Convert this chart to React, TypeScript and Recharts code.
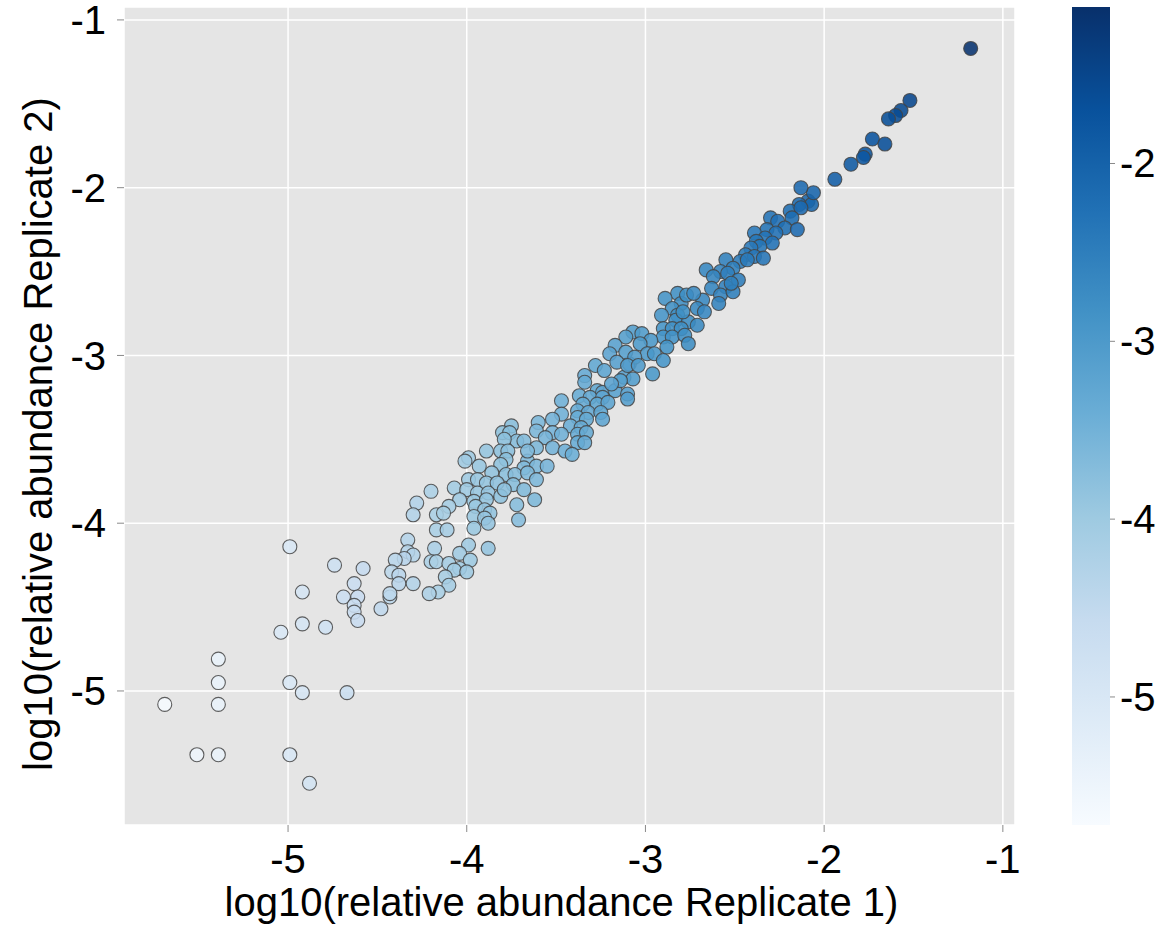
import { ScatterChart, Scatter, XAxis, YAxis, CartesianGrid } from 'recharts';

// log10 relative abundance, replicate 1 (x) and replicate 2 (y)
const replicate1 = [
  -4.99, -4.74, -4.92, -4.63, -4.69, -4.61, -4.63, -4.63, -4.61, -4.92, -4.79, -5.04,
  -5.39, -5.39, -5.39, -5.69, -4.99, -4.92, -4.67, -5.51, -5.39, -4.99, -4.88,
  -4.58, -4.2, -4.28, -4.3, -4.17, -4.17, -4.33, -4.33, -4.3, -4.35, -4.4, -4.18,
  -3.99, -3.88, -4.04, -3.98, -4.2, -4.17, -4.1, -4.04, -4.07, -4.0, -4.12, -4.42,
  -4.38, -4.38, -4.3, -4.1, -4.16, -4.21, -4.43, -4.43, -4.48,
  -3.75, -3.8, -3.76, -3.72, -3.79, -3.89, -3.81, -3.77, -3.99, -4.01, -3.78, -3.66,
  -3.93, -3.81, -3.68, -3.61, -3.55, -3.86, -3.78, -3.73, -3.66, -3.99, -3.94, -3.89,
  -3.83, -3.74, -3.61, -3.68, -4.07, -4.0, -3.94, -3.88, -3.81, -3.79, -4.04, -3.96,
  -3.89, -3.62, -3.72, -4.1, -3.95, -3.9, -3.87, -4.13, -3.96, -3.9, -3.71, -3.88,
  -4.11, -3.96,
  -3.09, -3.28, -3.23, -3.34, -3.12, -3.34, -3.27, -3.24, -3.17, -3.1, -3.37, -3.31,
  -3.24, -3.1, -3.47, -3.35, -3.27, -3.21, -3.38, -3.32, -3.25, -3.47, -3.52, -3.38,
  -3.33, -3.24, -3.6, -3.42, -3.36, -3.61, -3.52, -3.47, -3.38, -3.33, -3.56, -3.38,
  -3.34, -3.68, -3.61, -3.52, -3.45, -3.41, -3.66,
  -2.82, -2.89, -2.8, -2.85, -2.91, -2.82, -2.83, -2.76, -2.71, -2.9, -2.85, -2.8,
  -3.07, -3.02, -3.11, -2.9, -2.97, -2.85, -2.78, -3.03, -2.76, -3.17, -2.88, -3.11,
  -2.99, -2.95, -3.2, -3.06, -2.9, -3.16, -3.1, -3.04, -2.96, -3.07, -3.14, -3.19,
  -2.09, -2.07, -2.14, -2.19, -2.13, -2.18, -2.3, -2.26, -2.22, -2.15, -2.32, -2.27,
  -2.39, -2.33, -2.38, -2.29, -2.36, -2.41, -2.44, -2.39, -2.34, -2.55, -2.47, -2.43,
  -2.51, -2.66, -2.58, -2.54, -2.62, -2.48, -2.55, -2.63, -2.58, -2.51, -2.68, -2.77,
  -2.73, -2.59, -2.71, -2.79, -2.67, -2.52,
  -1.18, -1.52, -1.57, -1.6, -1.64, -1.73, -1.66, -1.77, -1.78, -1.85, -1.94, -2.06, -2.13,
];

const replicate2 = [
  -4.14, -4.25, -4.41, -4.36, -4.44, -4.44, -4.49, -4.53, -4.58, -4.6, -4.62, -4.65,
  -4.81, -4.95, -5.08, -5.08, -4.95, -5.01, -5.01, -5.38, -5.38, -5.38, -5.55,
  -4.27, -3.81, -3.88, -3.95, -3.95, -4.04, -4.1, -4.17, -4.19, -4.21, -4.22, -4.15,
  -4.13, -4.15, -4.18, -4.22, -4.23, -4.23, -4.24, -4.27, -4.28, -4.29, -4.32, -4.29,
  -4.31, -4.36, -4.36, -4.37, -4.41, -4.42, -4.44, -4.42, -4.51,
  -3.42, -3.46, -3.46, -3.51, -3.5, -3.57, -3.57, -3.57, -3.61, -3.63, -3.62, -3.63,
  -3.66, -3.65, -3.67, -3.66, -3.66, -3.7, -3.71, -3.71, -3.7, -3.74, -3.74, -3.76,
  -3.76, -3.77, -3.74, -3.8, -3.79, -3.8, -3.82, -3.82, -3.84, -3.8, -3.86, -3.87,
  -3.86, -3.86, -3.89, -3.9, -3.9, -3.92, -3.94, -3.94, -3.96, -3.97, -3.98, -4.0,
  -4.04, -4.03,
  -3.05, -3.06, -3.09, -3.12, -3.13, -3.16, -3.21, -3.22, -3.21, -3.23, -3.24, -3.25,
  -3.25, -3.26, -3.27, -3.29, -3.29, -3.28, -3.33, -3.34, -3.34, -3.35, -3.38, -3.37,
  -3.38, -3.38, -3.4, -3.42, -3.43, -3.45, -3.46, -3.47, -3.47, -3.46, -3.49, -3.52,
  -3.52, -3.51, -3.55, -3.55, -3.57, -3.59, -3.57,
  -2.63, -2.66, -2.69, -2.72, -2.76, -2.76, -2.79, -2.8, -2.82, -2.84, -2.84, -2.84,
  -2.86, -2.87, -2.89, -2.89, -2.91, -2.89, -2.88, -2.93, -2.93, -2.94, -2.95, -2.98,
  -2.99, -2.99, -2.99, -3.01, -3.03, -3.04, -3.06, -3.06, -3.11, -3.14, -3.15, -3.17,
  -2.08, -2.1, -2.1, -2.14, -2.12, -2.18, -2.18, -2.2, -2.24, -2.25, -2.25, -2.27,
  -2.27, -2.3, -2.32, -2.33, -2.35, -2.36, -2.4, -2.41, -2.42, -2.43, -2.44, -2.43,
  -2.48, -2.49, -2.5, -2.51, -2.53, -2.55, -2.59, -2.6, -2.64, -2.62, -2.67, -2.64,
  -2.63, -2.69, -2.72, -2.74, -2.74, -2.57,
  -1.17, -1.48, -1.54, -1.57, -1.59, -1.71, -1.74, -1.8, -1.82, -1.86, -1.95, -2.03, -2.0,
];

const xTicks = [-5, -4, -3, -2, -1];
const yTicks = [-5, -4, -3, -2, -1];
const colorTicks = [-5, -4, -3, -2];

// colour scale range (colour = replicate 1 value)
const colorMin = -5.72;
const colorMax = -1.12;

const blues = [
  [247, 251, 255], [222, 235, 247], [198, 219, 239], [158, 202, 225], [107, 174, 214],
  [66, 146, 198], [33, 113, 181], [8, 81, 156], [8, 48, 107],
];

const font = '"Liberation Sans", Arial, sans-serif';

function colorFor(v: number) {
  const t = Math.min(1, Math.max(0, (v - colorMin) / (colorMax - colorMin)));
  const p = t * (blues.length - 1);
  const i = Math.min(blues.length - 2, Math.floor(p));
  const f = p - i;
  const c = blues[i].map((a, k) => Math.round(a + (blues[i + 1][k] - a) * f));
  return `rgb(${c[0]},${c[1]},${c[2]})`;
}

const points = replicate1.map((x, i) => ({ x, y: replicate2[i] }));

const Dot = (props: any) => {
  const { cx, cy, payload } = props;
  return (
    <circle
      cx={cx}
      cy={cy}
      r={7}
      fill={colorFor(payload.x)}
      fillOpacity={0.88}
      stroke="#444"
      strokeOpacity={0.85}
      strokeWidth={1.1}
    />
  );
};

// colorbar geometry
const barX = 1072;
const barTop = 7;
const barH = 818;
const barW = 38;

export default function App() {
  return (
    <div style={{ position: 'absolute', left: 0, top: 0, width: 1160, height: 926, background: '#fff' }}>
      <ScatterChart width={1160} height={926} margin={{ top: 7, right: 145, bottom: 0, left: 0 }}>
        <CartesianGrid fill="#e5e5e5" stroke="#ffffff" strokeWidth={1.5} />
        <XAxis
          type="number"
          dataKey="x"
          domain={[-5.918, -0.932]}
          ticks={xTicks}
          interval={0}
          allowDataOverflow
          axisLine={false}
          tickLine={{ stroke: '#8a8a8a' }}
          tickSize={7}
          tickMargin={13}
          height={101}
          tick={{ fontSize: 40, fill: '#000', fontFamily: font }}
          label={{
            value: 'log10(relative abundance Replicate 1)',
            position: 'insideBottom',
            offset: 10,
            dx: -8,
            fontSize: 40,
            fill: '#000',
            fontFamily: font,
          }}
        />
        <YAxis
          type="number"
          dataKey="y"
          domain={[-5.799, -0.923]}
          ticks={yTicks}
          interval={0}
          allowDataOverflow
          axisLine={false}
          tickLine={{ stroke: '#8a8a8a' }}
          tickSize={7}
          tickMargin={11}
          width={124}
          tick={{ fontSize: 40, fill: '#000', fontFamily: font }}
          label={{
            value: 'log10(relative abundance Replicate 2)',
            angle: -90,
            position: 'center',
            dx: -24,
            dy: 18,
            fontSize: 40,
            fill: '#000',
            fontFamily: font,
          }}
        />
        <Scatter data={points} shape={Dot} isAnimationActive={false} />
      </ScatterChart>
      <svg
        width={1160}
        height={926}
        style={{ position: 'absolute', left: 0, top: 0, pointerEvents: 'none' }}
      >
        <defs>
          <linearGradient id="bluesBar" x1="0" y1="1" x2="0" y2="0">
            {blues.map((c, i) => (
              <stop key={i} offset={i / (blues.length - 1)} stopColor={`rgb(${c[0]},${c[1]},${c[2]})`} />
            ))}
          </linearGradient>
        </defs>
        <rect x={barX} y={barTop} width={barW} height={barH} fill="url(#bluesBar)" />
        {colorTicks.map((v) => {
          const y = barTop + ((colorMax - v) / (colorMax - colorMin)) * barH;
          return (
            <g key={v}>
              <line x1={barX + barW} x2={barX + barW + 5} y1={y} y2={y} stroke="#8a8a8a" />
              <text
                x={barX + barW + 10}
                y={y}
                dominantBaseline="central"
                fontSize={40}
                fontFamily={font}
                fill="#000"
              >
                {v}
              </text>
            </g>
          );
        })}
      </svg>
    </div>
  );
}
